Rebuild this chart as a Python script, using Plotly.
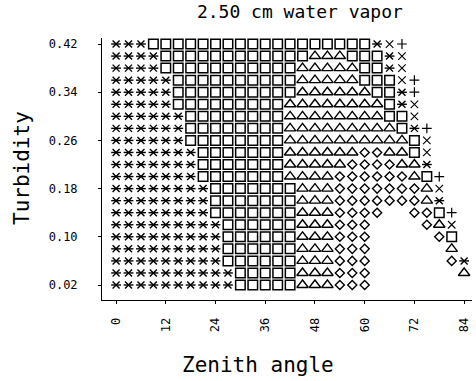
import plotly.graph_objects as go

# Turbidity rows (top to bottom) and zenith-angle columns (step 3 deg)
turbidity = [0.42, 0.40, 0.38, 0.36, 0.34, 0.32, 0.30, 0.28, 0.26, 0.24, 0.22,
             0.20, 0.18, 0.16, 0.14, 0.12, 0.10, 0.08, 0.06, 0.04, 0.02]
zenith = [0, 3, 6, 9, 12, 15, 18, 21, 24, 27, 30, 33, 36, 39, 42, 45, 48, 51,
          54, 57, 60, 63, 66, 69, 72, 75, 78, 81, 84]

# Symbol code in each cell: A=asterisk, S=square, T=triangle, D=diamond,
# X=cross (x), P=plus, .=empty
grid = [
    "AAASSSSSSSSSSSSSSSSSSAXP",
    "AAAASSSSSSSSSSSSTTTSSSAX",
    "AAAASSSSSSSSSSSTTTTTSSAX",
    "AAAAASSSSSSSSSSTTTTTSSSXP",
    "AAAAASSSSSSSSSSTTTTTTSSAP",
    "AAAAASSSSSSSSSTTTTTTTTSAX",
    "AAAAAASSSSSSSSTTTTTTTTSSX",
    "AAAAAASSSSSSSSTTTTTTTTTSAP",
    "AAAAAASSSSSSSSTTTTTTTTTTSX",
    "AAAAAAASSSSSSSTTTTTTDDTTSX",
    "AAAAAAASSSSSSSTTTTTDDDDTTA",
    "AAAAAAASSSSSSSTTTTDDDDDDTSP",
    "AAAAAAAASSSSSSSTTTDDDDDDDTX",
    "AAAAAAAASSSSSSSTTTDDDDDDDTA",
    "AAAAAAAASSSSSSSTTTDDDD..DDSP",
    "AAAAAAAAASSSSSSTTTDDD....DTX",
    "AAAAAAAAASSSSSSTTTDDD.....DS",
    "AAAAAAAAASSSSSSTTTDDD......T",
    "AAAAAAAAASSSSSSTTTDDD......DA",
    "AAAAAAAAAASSSSSTTTDDD.......T",
    "AAAAAAAAAASSSSSTTTDDD",
]

x_ticks = [0, 12, 24, 36, 48, 60, 72, 84]
y_ticks = [0.02, 0.10, 0.18, 0.26, 0.34, 0.42]


def cells(code):
    xs, ys = [], []
    for t, row in zip(turbidity, grid):
        for z, c in zip(zenith, row):
            if c == code:
                xs.append(z)
                ys.append(t)
    return xs, ys


styles = [
    ("S", [("square-open", 9.5, 1.5)]),
    ("T", [("triangle-up-open", 10, 1.4)]),
    ("D", [("diamond-open", 7, 1.4)]),
    ("A", [("x-thin", 7, 1.4), ("line-ew", 7, 1.4)]),
    ("X", [("x-thin", 7.5, 1.1)]),
    ("P", [("cross-thin", 7, 1.2)]),
]

fig = go.Figure()
for code, parts in styles:
    xs, ys = cells(code)
    for sym, size, lw in parts:
        fig.add_trace(go.Scatter(
            x=xs, y=ys, mode="markers", showlegend=False, hoverinfo="skip",
            marker=dict(symbol=sym, size=size, color="black",
                        line=dict(color="black", width=lw)),
        ))

font = "DejaVu Sans Mono, Liberation Mono, monospace"

fig.update_layout(
    width=476, height=381,
    margin=dict(l=102, r=4, t=38, b=81),
    paper_bgcolor="white", plot_bgcolor="white",
    font=dict(family=font, color="black"),
    title=dict(text="2.50 cm water vapor", x=0.63, xanchor="center",
               y=0.968, yanchor="middle",
               font=dict(family=font, size=18, color="black")),
    xaxis=dict(range=[-3.4, 85.9], tickvals=x_ticks,
               ticktext=[str(v) for v in x_ticks], tickangle=-90,
               showgrid=False, zeroline=False, showline=True,
               linecolor="black", linewidth=1, ticks="outside", ticklen=3,
               tickcolor="black", ticklabelstandoff=9,
               tickfont=dict(family=font, size=12, color="black")),
    yaxis=dict(range=[-0.0049, 0.430], tickvals=y_ticks,
               ticktext=["%.2f" % v for v in y_ticks],
               showgrid=False, zeroline=False, showline=True,
               linecolor="black", linewidth=1, ticks="outside", ticklen=3,
               tickcolor="black", ticklabelstandoff=18,
               tickfont=dict(family=font, size=12, color="black")),
    annotations=[
        dict(text="Zenith angle", xref="paper", yref="paper",
             x=(258 - 102) / 370, y=-(365 - 300) / 262, xanchor="center",
             yanchor="middle", showarrow=False,
             font=dict(family=font, size=21, color="black")),
        dict(text="Turbidity", xref="paper", yref="paper",
             x=-(102 - 22) / 370, y=(300 - 168) / 262, xanchor="center",
             yanchor="middle", textangle=-90, showarrow=False,
             font=dict(family=font, size=21, color="black")),
    ],
)

fig.write_html("out.html")
